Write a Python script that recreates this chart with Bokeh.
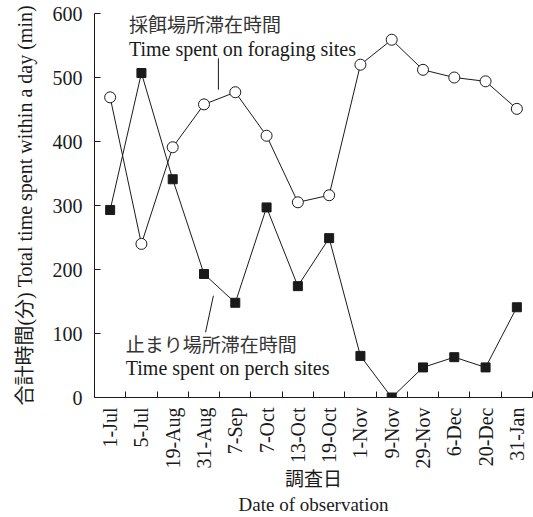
from bokeh.plotting import figure
from bokeh.models import FixedTicker, Range1d, ColumnDataSource
from bokeh.core.properties import value
from bokeh.embed import file_html
from bokeh.resources import INLINE
import math

dates = ["1-Jul", "5-Jul", "19-Aug", "31-Aug", "7-Sep", "7-Oct", "13-Oct",
         "19-Oct", "1-Nov", "9-Nov", "29-Nov", "6-Dec", "20-Dec", "31-Jan"]
foraging = [469, 240, 391, 458, 477, 409, 305, 316, 520, 559, 512, 500, 494, 451]
perch = [293, 507, 341, 193, 148, 297, 174, 249, 65, 0, 47, 63, 47, 141]
y_ticks = [0, 100, 200, 300, 400, 500, 600]

idx = list(range(1, len(dates) + 1))
SERIF = "Liberation Serif"
CJK = "Noto Sans CJK JP"
INK = "#1a1a1a"

p = figure(width=533, height=517, output_backend="svg", toolbar_location=None,
           x_range=Range1d(0.5, len(dates) + 0.5), y_range=Range1d(0, 600),
           min_border_left=94, min_border_right=1, min_border_top=13,
           min_border_bottom=120)
p.outline_line_color = None
p.xgrid.grid_line_color = None
p.ygrid.grid_line_color = None
p.background_fill_color = "white"
p.border_fill_color = "white"

src = ColumnDataSource(dict(x=idx, f=foraging, pch=perch))

p.line("x", "f", source=src, line_color=INK, line_width=1)
p.line("x", "pch", source=src, line_color=INK, line_width=1)
p.scatter("x", "f", source=src, marker="circle", size=11, fill_color="white",
          line_color=INK, line_width=1)
p.scatter("x", "pch", source=src, marker="square", size=9, fill_color=INK,
          line_color=INK, line_width=1)

# x axis
xa = p.xaxis[0]
xa.ticker = FixedTicker(ticks=idx, minor_ticks=[i + 0.5 for i in range(0, len(dates) + 1)])
xa.major_label_overrides = {i: d for i, d in zip(idx, dates)}
xa.major_label_orientation = math.pi / 2
xa.major_tick_in = 0
xa.major_tick_out = 0
xa.minor_tick_in = 6
xa.minor_tick_out = 0
xa.minor_tick_line_color = INK
xa.axis_line_color = INK
xa.major_label_text_font = SERIF
xa.major_label_text_font_size = "20px"
xa.major_label_text_color = INK
xa.major_label_standoff = 10
xa.axis_label = "調査日\nDate of observation"
xa.axis_label_text_font = SERIF + ", " + CJK
xa.axis_label_text_font_size = "19px"
xa.axis_label_text_font_style = "normal"
xa.axis_label_text_color = INK
xa.axis_label_text_line_height = 1.2
xa.axis_label_standoff = -3

# y axis
ya = p.yaxis[0]
ya.ticker = FixedTicker(ticks=y_ticks, minor_ticks=[])
ya.major_tick_in = 6
ya.major_tick_out = 0
ya.major_tick_line_color = INK
ya.minor_tick_line_color = None
ya.axis_line_color = INK
ya.major_label_text_font = SERIF
ya.major_label_text_font_size = "20px"
ya.major_label_text_color = INK
ya.major_label_standoff = 12
ya.axis_label = "合計時間(分) Total time spent within a day (min)"
ya.axis_label_text_font = SERIF + ", " + CJK
ya.axis_label_text_font_size = "20px"
ya.axis_label_text_font_style = "normal"
ya.axis_label_text_color = INK
ya.axis_label_standoff = 14

# annotations
p.text(x=[1.6], y=[584], text=["採餌場所滞在時間"], text_font=value(CJK),
       text_font_size="19px", text_color="#333333", text_baseline="middle",
       text_align="left")
p.text(x=[1.6], y=[545], text=["Time spent on foraging sites"], text_font=value(SERIF),
       text_font_size="20px", text_color=INK, text_baseline="middle", text_align="left")
p.segment(x0=[4.46], y0=[530], x1=[4.46], y1=[481], line_color=INK, line_width=1)

p.text(x=[1.5], y=[84], text=["止まり場所滞在時間"], text_font=value(CJK),
       text_font_size="19px", text_color="#333333", text_baseline="middle",
       text_align="left")
p.text(x=[1.5], y=[46], text=["Time spent on perch sites"], text_font=value(SERIF),
       text_font_size="20px", text_color=INK, text_baseline="middle", text_align="left")
p.segment(x0=[4.30], y0=[159], x1=[4.05], y1=[102], line_color=INK, line_width=1)

open("out.html", "w").write(file_html(p, INLINE))
